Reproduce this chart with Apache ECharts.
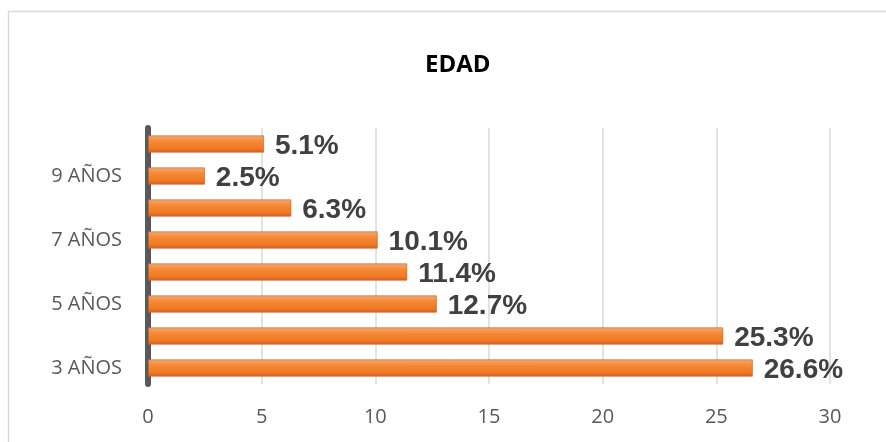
<!DOCTYPE html>
<html>
<head>
<meta charset="utf-8">
<script src="https://cdn.jsdelivr.net/npm/echarts@6/dist/echarts.min.js"></script>
<style>html,body{margin:0;padding:0;background:#fff}#c{width:886px;height:442px}</style>
</head>
<body>
<div id="c"></div>
<script>
var categories = ['3 AÑOS', '4 AÑOS', '5 AÑOS', '6 AÑOS', '7 AÑOS', '8 AÑOS', '9 AÑOS', '10 AÑOS'];
var values = [26.6, 25.3, 12.7, 11.4, 10.1, 6.3, 2.5, 5.1];
var xTicks = [0, 5, 10, 15, 20, 25, 30];
var titleText = 'EDAD';

var chart = echarts.init(document.getElementById('c'));
chart.setOption({
  animation: false,
  backgroundColor: '#fff',
  title: {
    text: titleText,
    left: 420,
    top: 48,
    textStyle: { fontFamily: 'Open Sans', fontWeight: 'bold', fontSize: 24, color: '#000' }
  },
  graphic: [{
    type: 'rect',
    shape: { x: 8.5, y: 11.5, width: 900, height: 460 },
    style: { fill: 'none', stroke: '#D9D9D9', lineWidth: 1.5 },
    silent: true, z: -1
  }],
  grid: { left: 148, right: 56, top: 128, bottom: 58 },
  xAxis: {
    type: 'value',
    min: xTicks[0], max: xTicks[xTicks.length - 1], interval: 5,
    axisLine: { show: false },
    axisTick: { show: false },
    axisLabel: { color: '#595959', fontFamily: 'Open Sans', fontSize: 20, margin: 23 },
    splitLine: { lineStyle: { color: '#D9D9D9', width: 1.5 } }
  },
  yAxis: {
    type: 'category',
    data: categories,
    axisLine: { show: true, lineStyle: { color: '#595959', width: 6 } },
    axisTick: { show: false },
    axisLabel: { interval: 1, color: '#595959', fontFamily: 'Open Sans', fontSize: 20, margin: 26 }
  },
  series: [{
    type: 'bar',
    data: values,
    barWidth: 17,
    itemStyle: {
      color: new echarts.graphic.LinearGradient(0, 0, 0, 1, [
        { offset: 0, color: '#F7A86F' },
        { offset: 0.35, color: '#F58A35' },
        { offset: 0.75, color: '#F07826' },
        { offset: 1, color: '#D5651D' }
      ]),
      borderColor: '#BF5B1B',
      borderWidth: 0.6
    },
    label: {
      show: true,
      position: 'right',
      distance: 11,
      offset: [0, 2],
      formatter: function (p) { return p.value.toFixed(1) + '%'; },
      fontFamily: 'Liberation Sans',
      fontWeight: 'bold',
      fontSize: 28,
      color: '#404040'
    }
  }]
});
</script>
</body>
</html>
